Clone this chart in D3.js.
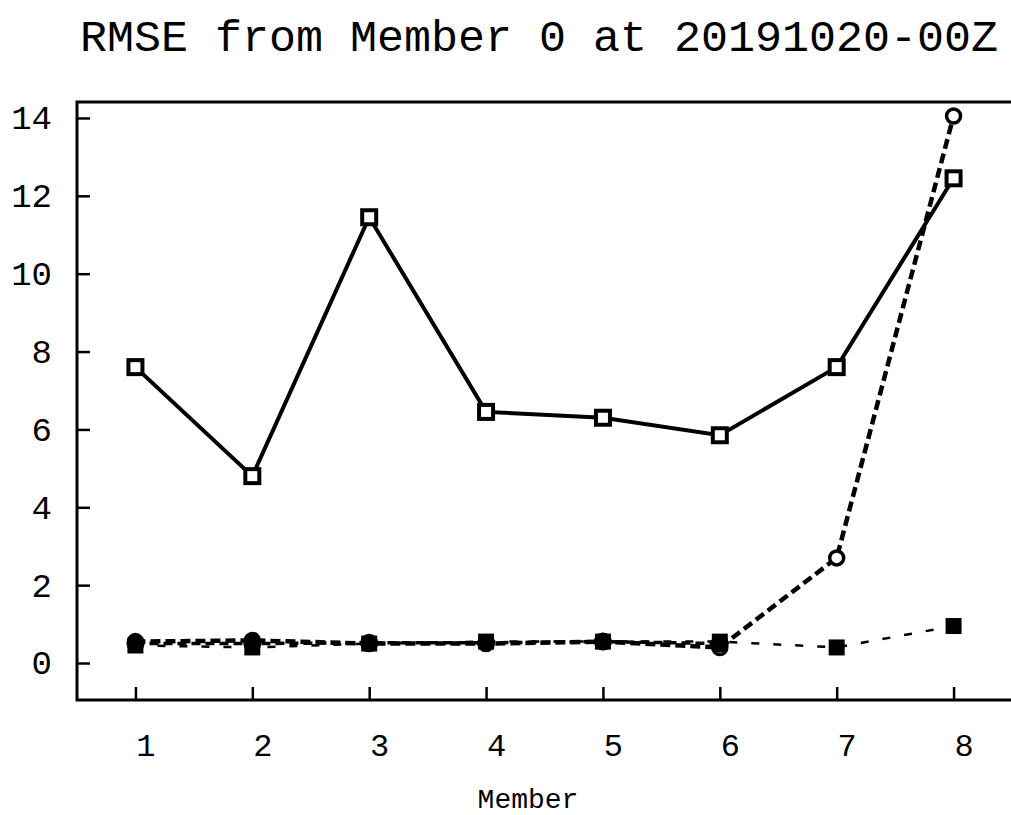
<!DOCTYPE html>
<html>
<head>
<meta charset="utf-8">
<script src="https://cdn.jsdelivr.net/npm/d3@7"></script>
<style>
  body { margin: 0; background: #fff; }
  svg text { font-family: "Liberation Mono", "DejaVu Sans Mono", monospace; fill: #000; }
</style>
</head>
<body>
<svg id="chart" width="1011" height="815"></svg>
<script>
// data
var members = [1, 2, 3, 4, 5, 6, 7, 8];
var rmseTotal = [7.6, 4.8, 11.45, 6.45, 6.3, 5.85, 7.6, 12.45];   // solid, open squares
var rmseA     = [0.55, 0.58, 0.5, 0.5, 0.55, 0.4, 2.7, 14.05];    // dashed, open circles
var rmseB     = [0.5, 0.5, 0.52, 0.52, 0.55, 0.5];                // dashed, filled circles (members 1-6)
var rmseC     = [0.45, 0.4, 0.5, 0.55, 0.55, 0.55, 0.4, 0.95];    // thin dashed, filled squares
var yTicks = [0, 2, 4, 6, 8, 10, 12, 14];

var svg = d3.select('#chart');
var margin = { top: 102, left: 77, bottom: 700 };

// scales
var xScale = d3.scaleLinear().domain([0.5, 8.5]).range([margin.left, 1012]);
var yScale = d3.scaleLinear().domain([-0.95, 14.41]).range([margin.bottom, margin.top]);

// title
svg.append('text')
    .attr('x', 539).attr('y', 51)
    .attr('text-anchor', 'middle')
    .style('font-size', '45px')
    .text('RMSE from Member 0 at 20191020-00Z');

// x axis (ticks pointing inward)
var xAxis = d3.axisBottom(xScale).tickValues(members).tickSize(-13).tickPadding(33);
svg.append('g')
    .attr('class', 'x axis')
    .attr('transform', 'translate(0,' + margin.bottom + ')')
    .call(xAxis)
    .call(g => g.select('.domain').remove())
    .call(g => g.selectAll('.tick line').attr('stroke', '#000').attr('stroke-width', 2.5))
    .call(g => g.selectAll('.tick text')
        .attr('dx', 10)
        .style('font-size', '32px'));

// y axis
var yAxis = d3.axisLeft(yScale).tickValues(yTicks).tickSize(-13).tickPadding(25);
svg.append('g')
    .attr('class', 'y axis')
    .attr('transform', 'translate(' + margin.left + ',0)')
    .call(yAxis)
    .call(g => g.select('.domain').remove())
    .call(g => g.selectAll('.tick line').attr('stroke', '#000').attr('stroke-width', 2.5))
    .call(g => g.selectAll('.tick text').style('font-size', '34px'));

// frame: left, top, bottom (right side runs off the page)
svg.append('path')
    .attr('d', 'M1012,' + margin.top + 'H' + margin.left + 'V' + margin.bottom + 'H1012')
    .attr('fill', 'none')
    .attr('stroke', '#000')
    .attr('stroke-width', 3);

// axis title
svg.append('text')
    .attr('x', 528).attr('y', 808)
    .attr('text-anchor', 'middle')
    .style('font-size', '28px')
    .text('Member');

/////////////////////////////////////////////////////////////////////
//                        LINES                                    //
/////////////////////////////////////////////////////////////////////
var line = d3.line()
    .x((d, i) => xScale(members[i]))
    .y(d => yScale(d));

var series = [
    { values: rmseA, width: 4.5, dash: '10,5', marker: 'ocircle' },
    { values: rmseC, width: 2.5, dash: '8,14', marker: 'fsquare' },
    { values: rmseB, width: 3.5, dash: '9,5', marker: 'fcircle' },
    { values: rmseTotal, width: 4, dash: null, marker: 'osquare' }
];

series.forEach(function(s) {
    svg.append('path')
        .datum(s.values)
        .attr('d', line)
        .attr('fill', 'none')
        .attr('stroke', '#000')
        .attr('stroke-width', s.width)
        .attr('stroke-dasharray', s.dash);
});

/////////////////////////////////////////////////////////////////////
//                        MARKERS                                  //
/////////////////////////////////////////////////////////////////////
series.forEach(function(s) {
    var g = svg.append('g').attr('class', 'markers');
    s.values.forEach(function(v, i) {
        var cx = xScale(members[i]), cy = yScale(v);
        if (s.marker === 'fsquare') {
            g.append('rect').attr('x', cx - 8).attr('y', cy - 8)
                .attr('width', 16).attr('height', 16).attr('fill', '#000');
        } else if (s.marker === 'osquare') {
            g.append('rect').attr('x', cx - 7).attr('y', cy - 7)
                .attr('width', 14).attr('height', 14)
                .attr('fill', '#fff').attr('stroke', '#000').attr('stroke-width', 4);
        } else if (s.marker === 'fcircle') {
            g.append('circle').attr('cx', cx).attr('cy', cy).attr('r', 9).attr('fill', '#000');
        } else {
            g.append('circle').attr('cx', cx).attr('cy', cy).attr('r', 7)
                .attr('fill', '#fff').attr('stroke', '#000').attr('stroke-width', 3.5);
        }
    });
});
</script>
</body>
</html>
